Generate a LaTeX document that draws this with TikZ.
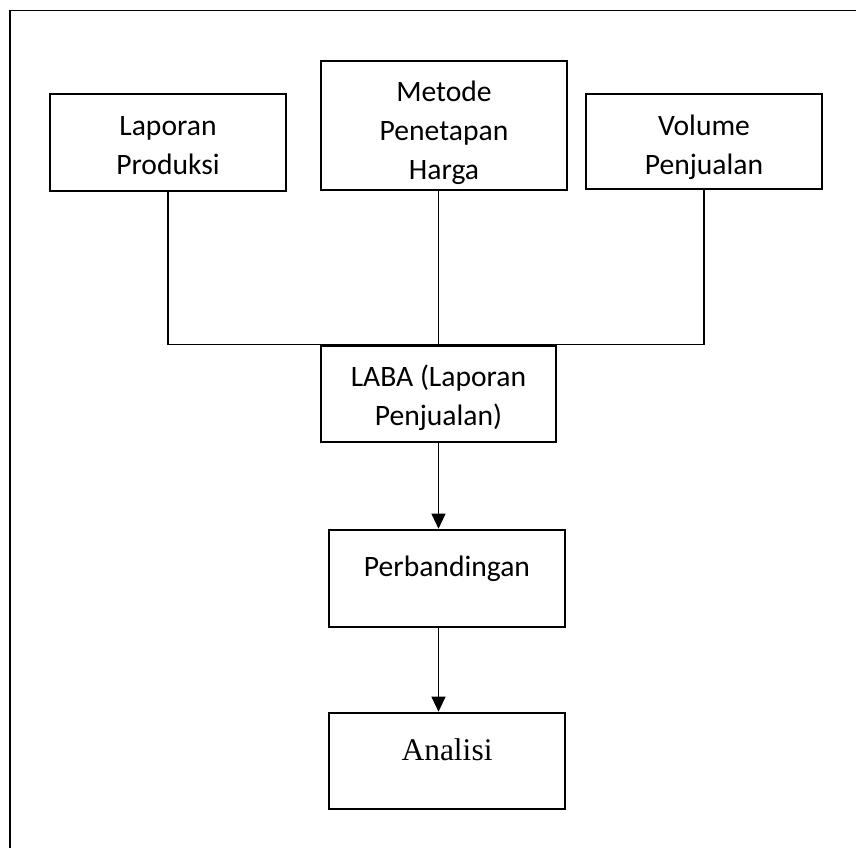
\documentclass[tikz,border=0pt]{standalone}
\usepackage{fontspec}
\setmainfont{Carlito}
\newfontfamily\timesfont{Liberation Serif}
\usetikzlibrary{arrows.meta}
\begin{document}
\begin{tikzpicture}[x=1pt,y=-1pt,
    kotak/.style={draw=black,line width=2.6pt,rectangle,inner sep=0pt,minimum width=236pt,text height=20pt,font=\fontsize{29.6}{39}\selectfont},
    garis/.style={draw=black,line width=1.1pt},
    panah/.style={garis,-{Triangle[width=14pt,length=15pt]}}]
            \useasboundingbox (0,0) rectangle (856,848);
            \draw[line width=1.6pt] (10,848) -- (10,10.5) -- (856,10.5);
            \node[kotak,align=center,minimum height=97pt,text height=64pt,text depth=0pt] (laporan) at (168,142.5) {Laporan\\Produksi};
            \node[kotak,align=center,minimum width=246pt,minimum height=129pt,text height=107pt,text depth=0pt] (metode) at (444,125.5) {Metode\\Penetapan\\Harga};
            \node[kotak,align=center,minimum height=95pt,text height=66pt,text depth=0pt] (volume) at (704,141.5) {Volume\\Penjualan};
            \node[kotak,align=center,minimum width=235pt,minimum height=96pt,text height=62pt,text depth=0pt] (laba) at (438.5,394) {LABA (Laporan\\Penjualan)};
            \node[kotak,minimum height=97pt,text depth=25pt] (banding) at (447,578.5) {Perbandingan};
            \node[kotak,minimum height=96pt,text depth=22pt,font=\timesfont\fontsize{31.5}{36}\selectfont] (analisi) at (447,761) {Analisi};
            \draw[garis] (laporan.south) -- (laporan.south |- laba.north) -- (volume.south |- laba.north) -- (volume.south);
            \draw[garis] (metode.south -| laba.north) -- (laba.north);
            \draw[panah] (laba.south) -- (laba.south |- banding.north);
            \draw[panah] (laba.south |- banding.south) -- (laba.south |- analisi.north);
            \end{tikzpicture}
\end{document}
